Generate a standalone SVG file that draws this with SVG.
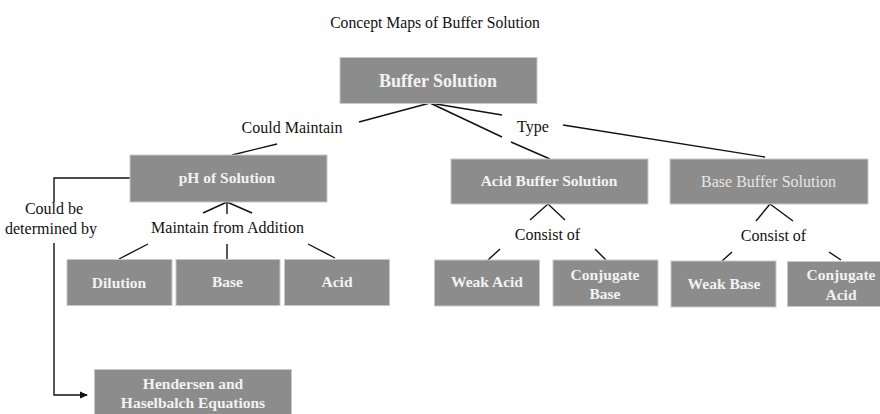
<svg xmlns="http://www.w3.org/2000/svg" width="880" height="414" viewBox="0 0 880 414">
<style>
.box{fill:#8c8c8c;stroke:#c8c8c8;stroke-width:1}
.bt{font-family:"Liberation Serif","Times New Roman",serif;font-weight:bold;fill:#f2f2f2;text-anchor:middle;font-size:15.5px}
.rt{font-family:"Liberation Serif","Times New Roman",serif;fill:#e6e6e6;text-anchor:middle;font-size:16px}
.lt{font-family:"Liberation Serif","Times New Roman",serif;fill:#111;text-anchor:middle;font-size:16px}
.ttl{font-family:"Liberation Serif","Times New Roman",serif;fill:#111;text-anchor:middle;font-size:15.7px}
.big{font-size:18px}
.ln{stroke:#111;stroke-width:1.4;fill:none}
</style>
<defs>
<marker id="ah" markerWidth="8" markerHeight="8" refX="7" refY="4" orient="auto" markerUnits="userSpaceOnUse">
<path d="M0,0.5 L8,4 L0,7.5 Z" fill="#111"/>
</marker>
</defs>
<text class="ttl" x="435" y="28">Concept Maps of Buffer Solution</text>
<g id="connectors">
<line class="ln" x1="430" y1="103" x2="359" y2="122"/>
<line class="ln" x1="430" y1="103" x2="502" y2="115"/>
<line class="ln" x1="430" y1="103" x2="502" y2="137"/>
<line class="ln" x1="511" y1="142" x2="550" y2="159"/>
<line class="ln" x1="563" y1="125" x2="765" y2="157"/>
<line class="ln" x1="277" y1="144" x2="232" y2="155"/>
<polyline class="ln" points="130,178 54,178 54,202"/>
<polyline class="ln" points="54,243 54,395 87,395" marker-end="url(#ah)"/>
<line class="ln" x1="227" y1="202" x2="203" y2="213"/>
<line class="ln" x1="227" y1="202" x2="227" y2="214"/>
<line class="ln" x1="227" y1="202" x2="252" y2="213"/>
<line class="ln" x1="148" y1="244" x2="119" y2="259"/>
<line class="ln" x1="227" y1="244" x2="227" y2="259"/>
<line class="ln" x1="308" y1="244" x2="335" y2="258"/>
<line class="ln" x1="548" y1="204" x2="530" y2="220"/>
<line class="ln" x1="548" y1="204" x2="565" y2="220"/>
<line class="ln" x1="500" y1="249" x2="488" y2="260"/>
<line class="ln" x1="595" y1="249" x2="606" y2="260"/>
<line class="ln" x1="770" y1="204" x2="756" y2="221"/>
<line class="ln" x1="770" y1="204" x2="793" y2="221"/>
<line class="ln" x1="732" y1="252" x2="722" y2="261"/>
<line class="ln" x1="829" y1="252" x2="841" y2="260"/>
</g>
<text class="lt" x="292" y="133">Could Maintain</text>
<text class="lt" x="533" y="132">Type</text>
<text class="lt" x="54" y="214">Could be</text>
<text class="lt" x="51" y="234">determined by</text>
<text class="lt" x="227.5" y="233">Maintain from Addition</text>
<text class="lt" x="547.5" y="240">Consist of</text>
<text class="lt" x="773.5" y="241">Consist of</text>
<g id="buffer-solution">
<rect class="box" x="340" y="57.5" width="197" height="46"/>
<text class="bt big" x="438" y="87">Buffer Solution</text>
</g>
<g id="ph-of-solution">
<rect class="box" x="130" y="155" width="197" height="47"/>
<text class="bt" x="227" y="183">pH of Solution</text>
</g>
<g id="acid-buffer-solution">
<rect class="box" x="451" y="159" width="197" height="45"/>
<text class="bt" x="549" y="186">Acid Buffer Solution</text>
</g>
<g id="base-buffer-solution">
<rect class="box" x="670" y="159" width="198" height="45"/>
<text class="rt" x="768.5" y="186.5">Base Buffer Solution</text>
</g>
<g id="dilution">
<rect class="box" x="67" y="259.5" width="105" height="46"/>
<text class="bt" x="119" y="288">Dilution</text>
</g>
<g id="base">
<rect class="box" x="176" y="259.5" width="104" height="46"/>
<text class="bt" x="227.5" y="287">Base</text>
</g>
<g id="acid">
<rect class="box" x="284.5" y="259.5" width="105" height="46"/>
<text class="bt" x="337" y="287">Acid</text>
</g>
<g id="weak-acid">
<rect class="box" x="434.5" y="260" width="105" height="46"/>
<text class="bt" x="487" y="287">Weak Acid</text>
</g>
<g id="conjugate-base">
<rect class="box" x="553" y="260" width="105" height="46"/>
<text class="bt" x="605" y="279.5">Conjugate</text>
<text class="bt" x="605" y="298.5">Base</text>
</g>
<g id="weak-base">
<rect class="box" x="671" y="261" width="105" height="46"/>
<text class="bt" x="724" y="289">Weak Base</text>
</g>
<g id="conjugate-acid">
<rect class="box" x="787.5" y="261.5" width="95" height="45"/>
<text class="bt" x="841" y="280">Conjugate</text>
<text class="bt" x="841" y="299.5">Acid</text>
</g>
<g id="hendersen">
<rect class="box" x="94.5" y="369.5" width="197" height="48"/>
<text class="bt" x="193" y="389">Hendersen and</text>
<text class="bt" x="193" y="408">Haselbalch Equations</text>
</g>
</svg>
